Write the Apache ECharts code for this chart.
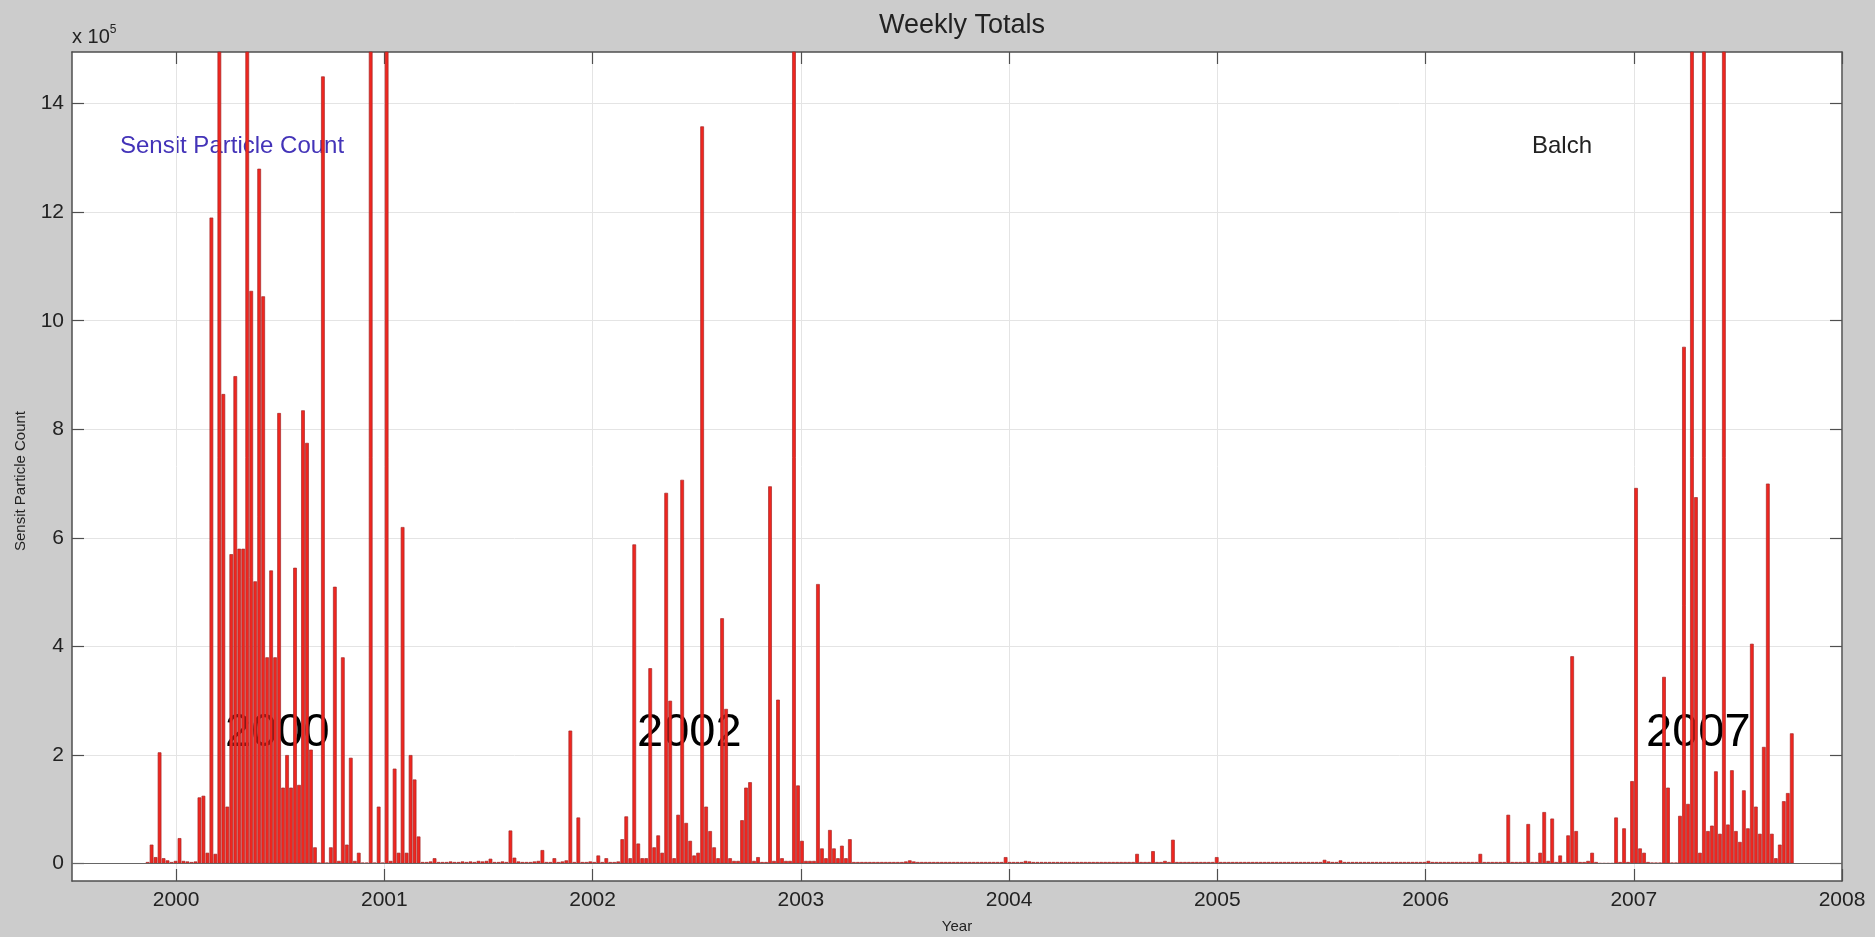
<!DOCTYPE html>
<html><head><meta charset="utf-8">
<script src="https://cdn.jsdelivr.net/npm/echarts@6/dist/echarts.min.js"></script>
<style>html,body{margin:0;padding:0;background:#cccccc}#c{width:1875px;height:937px}</style>
</head><body><div id="c"></div>
<script>
// Weekly totals, in units of 1e5 particles (axis shows "x 10^5")
const firstWeek = [1999, 10, 12]; // UTC year, month index, day of the first weekly bar
const weeklyTotals = [
  // late 1999 – 2000
  0.03, 0.35, 0.12, 2.05, 0.10, 0.06, 0.03, 0.05, 0.47, 0.05,
  0.04, 0.03, 0.04, 1.22, 1.25, 0.20, 11.9, 0.18, 20.0, 8.65,
  1.05, 5.70, 8.98, 5.80, 5.80, 20.0, 10.55, 5.20, 12.8, 10.45,
  3.80, 5.40, 3.80, 8.30, 1.40, 2.00, 1.40, 5.45, 1.45, 8.35,
  7.75, 2.10, 0.30, 0.02, 14.5, 0.02, 0.30, 5.10, 0.05, 3.80,
  0.35, 1.95, 0.05, 0.20, 0.02, 0.02, 20.0, 0.02, 1.05, 0.02,
  // 2001
  20.0, 0.05, 1.75, 0.20, 6.20, 0.20, 2.00, 1.55, 0.50, 0.03,
  0.03, 0.04, 0.10, 0.03, 0.03, 0.03, 0.04, 0.03, 0.03, 0.04,
  0.03, 0.04, 0.03, 0.05, 0.04, 0.05, 0.09, 0.03, 0.03, 0.04,
  0.03, 0.61, 0.11, 0.04, 0.03, 0.03, 0.03, 0.04, 0.05, 0.25,
  0.03, 0.03, 0.10, 0.03, 0.04, 0.06, 2.45, 0.03, 0.85, 0.03,
  // 2002
  0.03, 0.04, 0.03, 0.15, 0.03, 0.10, 0.03, 0.03, 0.04, 0.45,
  0.87, 0.10, 5.88, 0.37, 0.10, 0.10, 3.60, 0.30, 0.52, 0.20,
  6.83, 3.00, 0.10, 0.90, 7.07, 0.75, 0.42, 0.15, 0.20, 13.58,
  1.05, 0.60, 0.30, 0.10, 4.52, 2.85, 0.10, 0.05, 0.05, 0.80,
  1.40, 1.50, 0.05, 0.12, 0.03, 0.03, 6.95, 0.05, 3.02, 0.10,
  0.05, 0.05, 20.0, 1.44, 0.42, 0.05, 0.05, 0.05, 5.15, 0.28,
  // 2003
  0.10, 0.62, 0.28, 0.10, 0.33, 0.10, 0.45, 0.03, 0.03, 0.03,
  0.03, 0.03, 0.03, 0.03, 0.03, 0.03, 0.03, 0.03, 0.03, 0.03,
  0.04, 0.06, 0.04, 0.03, 0.03, 0.03, 0.03, 0.03, 0.03, 0.03,
  0.03, 0.03, 0.03, 0.03, 0.03, 0.03, 0.03, 0.03, 0.03, 0.03,
  0.03, 0.03, 0.03, 0.03, 0.03, 0.12, 0.03, 0.03, 0.03, 0.03,
  // 2004
  0.05, 0.04, 0.03, 0.03, 0.03, 0.03, 0.03, 0.03, 0.03, 0.03,
  0.03, 0.03, 0.03, 0.03, 0.03, 0.03, 0.03, 0.03, 0.03, 0.03,
  0.03, 0.03, 0.03, 0.03, 0.03, 0.03, 0.03, 0.03, 0.18, 0.03,
  0.03, 0.03, 0.23, 0.03, 0.03, 0.05, 0.03, 0.44, 0.03, 0.03,
  0.03, 0.03, 0.03, 0.03, 0.03, 0.03, 0.03, 0.03, 0.12, 0.03,
  // 2005
  0.03, 0.03, 0.03, 0.03, 0.03, 0.03, 0.03, 0.03, 0.03, 0.03,
  0.03, 0.03, 0.03, 0.03, 0.03, 0.03, 0.03, 0.03, 0.03, 0.03,
  0.03, 0.03, 0.03, 0.03, 0.03, 0.07, 0.04, 0.03, 0.03, 0.06,
  0.03, 0.03, 0.03, 0.03, 0.03, 0.03, 0.03, 0.03, 0.03, 0.03,
  0.03, 0.03, 0.03, 0.03, 0.03, 0.03, 0.03, 0.03, 0.03, 0.03,
  // 2006
  0.03, 0.05, 0.03, 0.03, 0.03, 0.03, 0.03, 0.03, 0.03, 0.03,
  0.03, 0.03, 0.03, 0.03, 0.18, 0.03, 0.03, 0.03, 0.03, 0.03,
  0.03, 0.90, 0.03, 0.03, 0.03, 0.03, 0.73, 0.03, 0.03, 0.20,
  0.95, 0.05, 0.83, 0.03, 0.15, 0.03, 0.52, 3.82, 0.60, 0.03,
  0.03, 0.05, 0.20, 0.03, 0.01, 0.01, 0.01, 0.01, 0.85, 0.03,
  // 2007
  0.65, 0.03, 1.52, 6.92, 0.28, 0.20, 0.03, 0.02, 0.02, 0.02,
  3.44, 1.40, 0.02, 0.02, 0.88, 9.52, 1.10, 20.0, 6.75, 0.20,
  20.0, 0.60, 0.70, 1.70, 0.55, 20.0, 0.72, 1.72, 0.60, 0.40,
  1.35, 0.65, 4.05, 1.05, 0.55, 2.15, 7.00, 0.55, 0.10, 0.35,
  1.15, 1.30, 2.40
];
const yTicks = [0, 2, 4, 6, 8, 10, 12, 14];
const xTicks = [2000, 2001, 2002, 2003, 2004, 2005, 2006, 2007, 2008];
const yearLabels = [
  { text: '2000', x: 225 },
  { text: '2002', x: 637 },
  { text: '2007', x: 1646 }
];

function decimalYear(i) {
  const t = Date.UTC(firstWeek[0], firstWeek[1], firstWeek[2]) + i * 7 * 86400000;
  const y = new Date(t).getUTCFullYear();
  const a = Date.UTC(y, 0, 1), b = Date.UTC(y + 1, 0, 1);
  return y + (t - a) / (b - a);
}
const seriesData = weeklyTotals.map((v, i) => [decimalYear(i), v]);

const FONT = '"Liberation Sans", Arial, Helvetica, sans-serif';
const axisCol = '#4f4f4f';
const chart = echarts.init(document.getElementById('c'), null, { renderer: 'canvas' });

const xBase = {
  type: 'value', min: 1999.5, max: 2008,
  axisLine: { show: true, onZero: false, lineStyle: { color: axisCol, width: 1.5 } },
  axisTick: { show: true, inside: true, length: 12, customValues: xTicks, lineStyle: { color: axisCol, width: 1.2 } },
  splitLine: { show: false }
};
const yBase = {
  type: 'value', min: -0.32, max: 14.95,
  axisLine: { show: true, onZero: false, lineStyle: { color: axisCol, width: 1.5 } },
  axisTick: { show: true, inside: true, length: 12, customValues: yTicks, lineStyle: { color: axisCol, width: 1.2 } },
  splitLine: { show: false }
};

chart.setOption({
  backgroundColor: '#cccccc',
  animation: false,
  title: {
    text: 'Weekly Totals', left: 957, top: 7, textAlign: 'center',
    textStyle: { fontFamily: FONT, fontSize: 27, fontWeight: 'normal', color: '#222' }
  },
  grid: { left: 72, right: 33, top: 52, bottom: 56, show: true, backgroundColor: '#ffffff', borderWidth: 0,
          containLabel: false, outerBoundsMode: 'none' },
  xAxis: [
    Object.assign({}, xBase, {
      position: 'bottom',
      axisLabel: { show: true, customValues: xTicks, fontFamily: FONT, fontSize: 21, color: '#222', margin: 9, formatter: v => String(v) },
      splitLine: { show: true, lineStyle: { color: '#e4e4e4', width: 1 } },
      name: 'Year', nameLocation: 'middle', nameGap: 38,
      nameTextStyle: { fontFamily: FONT, fontSize: 15, color: '#222' }
    }),
    Object.assign({}, xBase, { position: 'top', axisLabel: { show: false } })
  ],
  yAxis: [
    Object.assign({}, yBase, {
      position: 'left',
      axisLabel: { show: true, customValues: yTicks, fontFamily: FONT, fontSize: 21, color: '#222', margin: 8 },
      splitLine: { show: true, lineStyle: { color: '#e4e4e4', width: 1 } }
    }),
    Object.assign({}, yBase, { position: 'right', axisLabel: { show: false } })
  ],
  series: [{
    type: 'bar',
    xAxisIndex: 0, yAxisIndex: 0,
    data: seriesData,
    barWidth: 3.7,
    clip: true,
    itemStyle: { color: '#f0261f', borderColor: '#a52828', borderWidth: 0.7 },
    markLine: {
      silent: true, symbol: 'none', animation: false,
      label: { show: false },
      lineStyle: { color: '#666666', width: 1.2, type: 'solid' },
      data: [{ yAxis: 0 }]
    }
  }],
  graphic: [
    { type: 'text', left: 72, top: 24, style: {
        text: 'x 10{s|5}', fontFamily: FONT, fontSize: 20, fill: '#222',
        rich: { s: { fontFamily: FONT, fontSize: 12, fill: '#222', verticalAlign: 'top', padding: [0, 0, 14, 0] } }
      } },
    { type: 'text', x: 21, y: 481, rotation: Math.PI / 2, style: {
        text: 'Sensit Particle Count', fontFamily: FONT, fontSize: 15, fill: '#222', align: 'center', verticalAlign: 'middle'
      } },
    { type: 'text', left: 120, top: 134, style: { text: 'Sensit Particle Count', fontFamily: FONT, fontSize: 24, fill: '#4333b8' } },
    { type: 'text', left: 1532, top: 134, style: { text: 'Balch', fontFamily: FONT, fontSize: 24, fill: '#222' } }
  ].concat(yearLabels.map(l => ({
    type: 'text', left: l.x, top: 710, style: { text: l.text, fontFamily: FONT, fontSize: 47, fill: '#000' }
  })))
});
</script></body></html>
